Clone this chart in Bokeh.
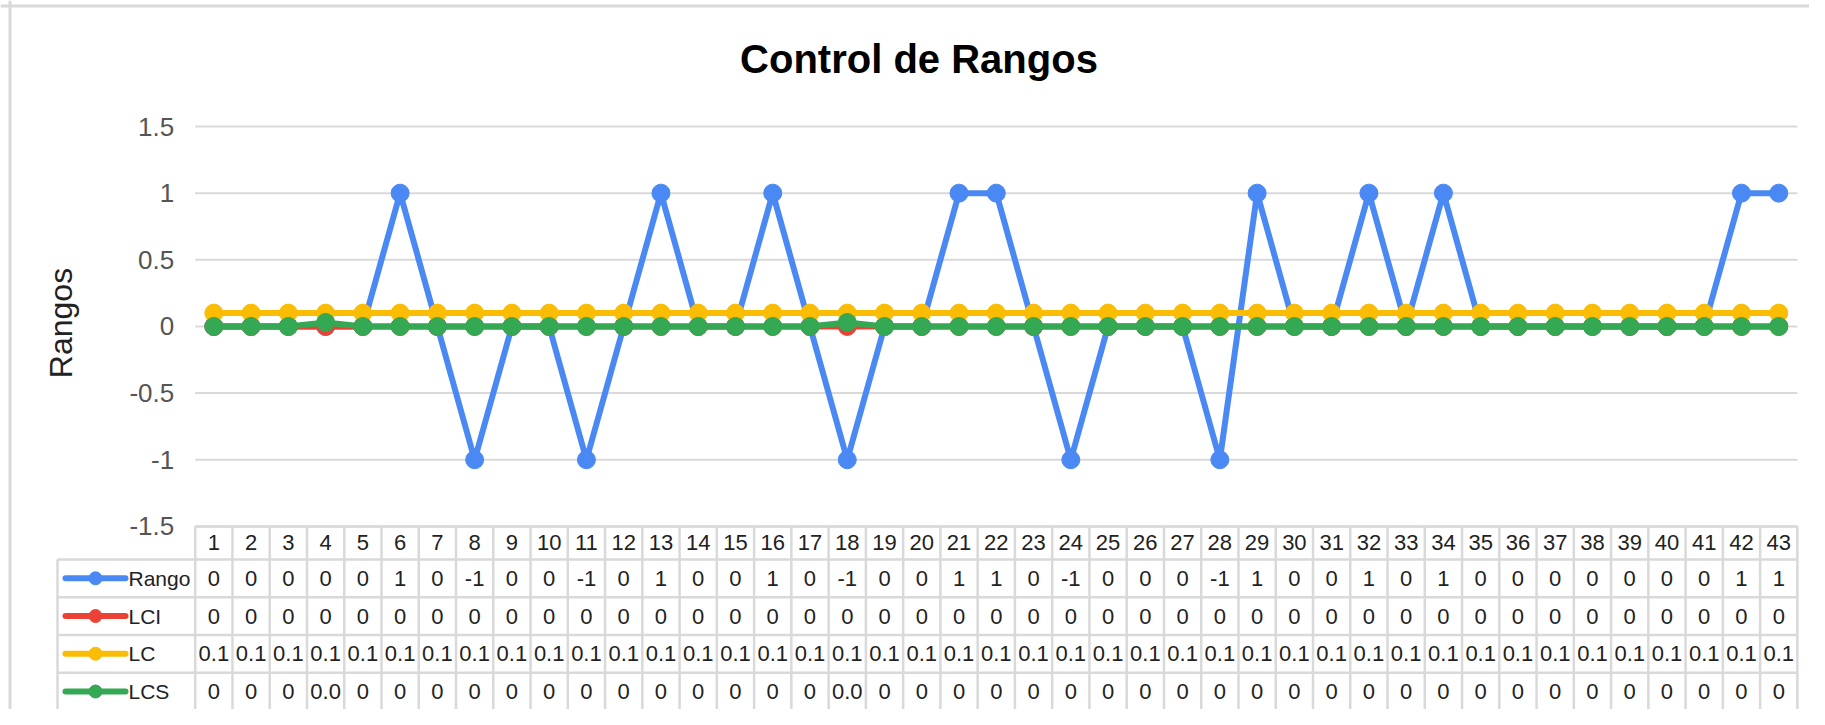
from bokeh.plotting import figure
from bokeh.models import (Range1d, LinearAxis, FixedTicker, NumeralTickFormatter,
                          Span, ColumnDataSource, Label)
from bokeh.core.properties import value
from bokeh.embed import file_html
from bokeh.resources import INLINE

# ---------------- data ----------------
categories = ["1", "2", "3", "4", "5", "6", "7", "8", "9", "10", "11", "12", "13", "14",
              "15", "16", "17", "18", "19", "20", "21", "22", "23", "24", "25", "26", "27",
              "28", "29", "30", "31", "32", "33", "34", "35", "36", "37", "38", "39", "40",
              "41", "42", "43"]
rango = [0, 0, 0, 0, 0, 1, 0, -1, 0, 0, -1, 0, 1, 0, 0, 1, 0, -1, 0, 0, 1, 1, 0, -1, 0,
         0, 0, -1, 1, 0, 0, 1, 0, 1, 0, 0, 0, 0, 0, 0, 0, 1, 1]
lci = [0, 0, 0, 0, 0, 0, 0, 0, 0, 0, 0, 0, 0, 0, 0, 0, 0, 0, 0, 0, 0, 0, 0, 0, 0,
       0, 0, 0, 0, 0, 0, 0, 0, 0, 0, 0, 0, 0, 0, 0, 0, 0, 0]
lc = [0.1, 0.1, 0.1, 0.1, 0.1, 0.1, 0.1, 0.1, 0.1, 0.1, 0.1, 0.1, 0.1, 0.1, 0.1, 0.1,
      0.1, 0.1, 0.1, 0.1, 0.1, 0.1, 0.1, 0.1, 0.1, 0.1, 0.1, 0.1, 0.1, 0.1, 0.1, 0.1,
      0.1, 0.1, 0.1, 0.1, 0.1, 0.1, 0.1, 0.1, 0.1, 0.1, 0.1]
lcs = [0, 0, 0, 0.03, 0, 0, 0, 0, 0, 0, 0, 0, 0, 0, 0, 0, 0, 0.03, 0, 0, 0, 0, 0, 0, 0,
       0, 0, 0, 0, 0, 0, 0, 0, 0, 0, 0, 0, 0, 0, 0, 0, 0, 0]
series_names = ["Rango", "LCI", "LC", "LCS"]
series_values = [rango, lci, lc, lcs]
series_colors = ["#4A89F3", "#EA4335", "#FBBC04", "#34A853"]
y_ticks = [-1.5, -1, -0.5, 0, 0.5, 1, 1.5]
title_text = "Control de Rangos"
y_label = "Rangos"

# ---------------- geometry (pixels, figure coords) ----------------
W, H = 1809, 709
PL = 194.7                # left edge of the category area
PX_X = 37.26              # px per category
PX_Y = 133.3              # px per y unit
Y15 = 126                 # pixel row of y = 1.5

def fx(px):
    return 0.5 + (px - PL) / PX_X

def fy(py):
    return 1.5 - (py - Y15) / PX_Y

x_start, x_end = fx(0), fx(W)
y_top, y_bot = fy(0), fy(H)

FONT = "Liberation Sans"
GRID = "#d9d9d9"

p = figure(width=W, height=H, x_range=Range1d(x_start, x_end), y_range=Range1d(y_bot, y_top),
           x_axis_location=None, y_axis_location=None, output_backend="svg",
           toolbar_location=None, min_border_left=0, min_border_right=0,
           min_border_bottom=0, min_border_top=0, outline_line_color=None,
           background_fill_color="white", border_fill_color="white")
p.grid.visible = False

# chart box borders (left and top)
p.add_layout(Span(location=fx(9.5), dimension="height", line_color=GRID, line_width=3))
p.add_layout(Span(location=fy(5.5), dimension="width", line_color=GRID, line_width=3))

# title
p.add_layout(Label(x=fx(918.5), y=fy(58.5), text=title_text, text_align="center",
                   text_baseline="alphabetic", text_font=FONT, text_font_size="40px",
                   text_font_style="bold", text_color="#000000"))

n = len(categories)
xs = list(range(1, n + 1))
x_left, x_right = 0.5, n + 0.5

# gridlines
p.segment(x0=[x_left] * len(y_ticks), x1=[x_right] * len(y_ticks), y0=y_ticks, y1=y_ticks,
          line_color=GRID, line_width=2)

# y axis
yaxis = LinearAxis(fixed_location=0.5, ticker=FixedTicker(ticks=y_ticks),
                   bounds=(-1.5, 1.55),
                   formatter=NumeralTickFormatter(format="0.[0]"),
                   axis_line_color=None, major_tick_line_color=None, minor_tick_line_color=None,
                   major_tick_out=0, major_tick_in=0, major_label_standoff=21,
                   major_label_text_font=FONT, major_label_text_font_size="26px",
                   major_label_text_color="#555555",
                   axis_label=y_label, axis_label_text_font=FONT,
                   axis_label_text_font_size="32px", axis_label_text_font_style="normal",
                   axis_label_text_color="#222222", axis_label_standoff=48)
p.add_layout(yaxis, "left")

# series
for vals, col in zip(series_values, series_colors):
    src = ColumnDataSource(dict(x=xs, y=vals))
    p.line("x", "y", source=src, line_color=col, line_width=6, line_join="round")
    p.scatter("x", "y", source=src, size=18, fill_color=col, line_color=col)

# ---------------- data table ----------------
HDR = 33 / PX_Y
ROW = 37.75 / PX_Y
t_top = -1.5
h_bot = t_top - HDR
row_tops = [h_bot - k * ROW for k in range(len(series_names) + 1)]
leg_left = fx(57)

# horizontal borders
hx0 = [x_left] + [leg_left] * len(row_tops)
hx1 = [x_right] * (len(row_tops) + 1)
hy = [t_top] + row_tops
p.segment(x0=hx0, x1=hx1, y0=hy, y1=hy, line_color=GRID, line_width=2.5)
# vertical borders
vx = [x_left + k for k in range(n + 1)]
p.segment(x0=vx, x1=vx, y0=[t_top] * len(vx), y1=[row_tops[-1]] * len(vx),
          line_color=GRID, line_width=2.5)
p.segment(x0=[leg_left], x1=[leg_left], y0=[h_bot], y1=[row_tops[-1]],
          line_color=GRID, line_width=2.5)

# header
p.text(x=xs, y=[(t_top + h_bot) / 2] * n, text=categories, text_align="center",
       text_baseline="middle", text_font=value(FONT), text_font_size="22px",
       text_color="#222222")

def fmt(v):
    if v == 0:
        return "0"
    if abs(v) < 0.05:
        return "%.1f" % v
    return "%g" % v

for k, (name, vals, col) in enumerate(zip(series_names, series_values, series_colors)):
    yc = row_tops[k] - ROW / 2
    p.text(x=xs, y=[yc] * n, text=[fmt(v) for v in vals], text_align="center",
           text_baseline="middle", text_font=value(FONT), text_font_size="22px",
           text_color="#222222")
    p.line(x=[fx(65), fx(125)], y=[yc, yc], line_color=col, line_width=6, line_cap="round")
    p.scatter(x=[fx(95)], y=[yc], size=13, fill_color=col, line_color=col)
    p.text(x=[fx(128)], y=[yc], text=[name], text_align="left", text_baseline="middle",
           text_font=value(FONT), text_font_size="21px", text_color="#222222")

open("out.html", "w").write(file_html(p, INLINE))
